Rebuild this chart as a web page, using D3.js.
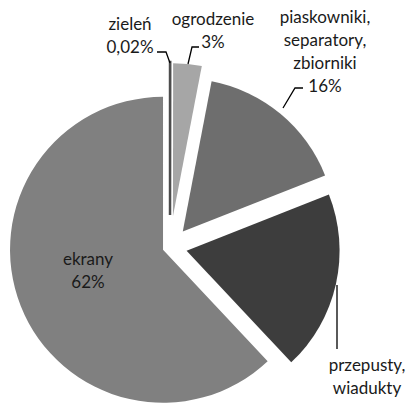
<!DOCTYPE html>
<html>
<head>
<meta charset="utf-8">
<script src="https://cdn.jsdelivr.net/npm/d3@7"></script>
<style>
  body { margin: 0; background: #fff; }
  svg text { font-family: Lato, "Open Sans", sans-serif; font-size: 17px; fill: #1a1a1a; }
</style>
</head>
<body>
<svg id="chart" width="407" height="404"></svg>
<script>
// Chart data
var categories = ["zieleń", "ogrodzenie", "piaskowniki, separatory, zbiorniki", "przepusty, wiadukty", "ekrany"];
var values = [0.02, 3, 16, 19, 62];
var percentLabels = ["0,02%", "3%", "16%", "19%", "62%"];
var labelLines = [["zieleń", "0,02%"], ["ogrodzenie", "3%"], ["piaskowniki,", "separatory,", "zbiorniki", "16%"], ["przepusty,", "wiadukty", "19%"], ["ekrany", "62%"]];

// Layout
var cx = 170, cy = 247, radius = 153;
var explode = [32, 31, 20, 17, 7.5];
var colors = ["#4d4d4d", "#a6a6a6", "#6e6e6e", "#3d3d3d", "#808080"];
var labelPos = [[130, 30], [213, 25], [325, 23], [367, 371], [88, 265]];
var lineHeight = 23;
var leaders = [
  [[157, 52], [166, 52], [170, 63]],
  [[199, 47], [192, 47], [188, 64]],
  [[303, 88], [295, 88], [283, 108]],
  [[337, 285], [337, 349]],
  null
];

var svg = d3.select("#chart");

var pie = d3.pie().sort(null).value(function(d) { return d; });
var arc = d3.arc().innerRadius(0).outerRadius(radius);
var arcs = pie(values);

// Slices, each pulled out along its bisector
svg.append("g")
  .selectAll("path")
  .data(arcs)
  .enter()
  .append("path")
    .attr("d", arc)
    .attr("transform", function(d, i) {
      var a = (d.startAngle + d.endAngle) / 2;
      var x = cx + explode[i] * Math.sin(a);
      var y = cy - explode[i] * Math.cos(a);
      return "translate(" + x + "," + y + ")";
    })
    .style("fill", function(d, i) { return colors[i]; })
    .style("stroke", function(d, i) { return i == 0 ? colors[i] : "none"; })
    .style("stroke-width", function(d, i) { return i == 0 ? 2.5 : 0; });

// Leader lines
svg.append("g")
  .selectAll("path")
  .data(leaders.filter(function(d) { return d != null; }))
  .enter()
  .append("path")
    .attr("d", d3.line())
    .style("fill", "none")
    .style("stroke", "#000")
    .style("stroke-width", 1.3);

// Labels
var labels = svg.append("g")
  .selectAll("text")
  .data(labelLines)
  .enter()
  .append("text")
    .attr("text-anchor", "middle")
    .attr("x", function(d, i) { return labelPos[i][0]; })
    .attr("y", function(d, i) { return labelPos[i][1]; });

labels.selectAll("tspan")
  .data(function(d, i) { return d.map(function(t) { return {t: t, i: i}; }); })
  .enter()
  .append("tspan")
    .attr("x", function(d) { return labelPos[d.i][0]; })
    .attr("dy", function(d, j) { return j == 0 ? 0 : lineHeight; })
    .text(function(d) { return d.t; });
</script>
</body>
</html>
